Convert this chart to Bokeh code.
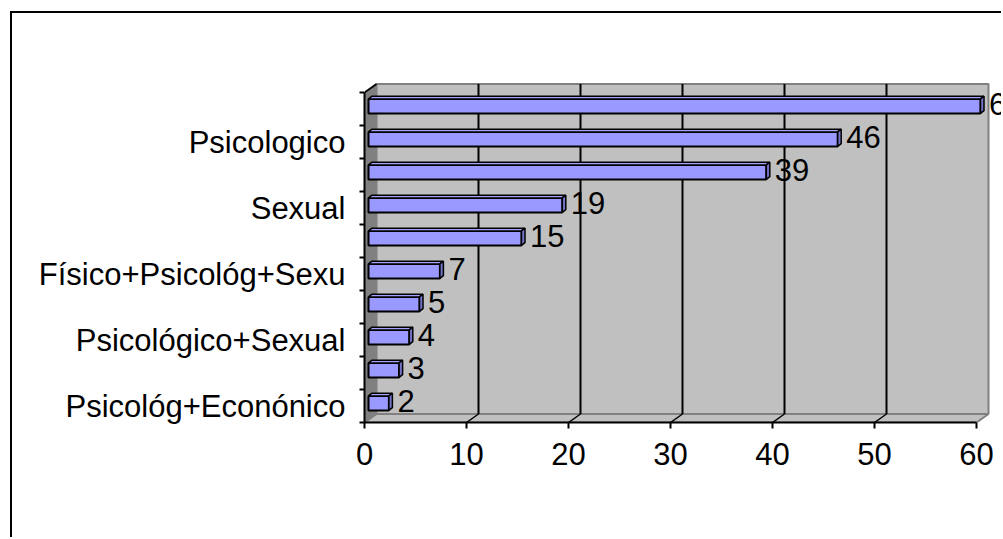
from bokeh.plotting import figure
from bokeh.models import Range1d, FixedTicker
from bokeh.core.properties import value
from bokeh.embed import file_html
from bokeh.resources import INLINE

# ---- data (bottom to top) ----
categories = ["Psicológ+Econónico", "", "Psicológico+Sexual", "", "Físico+Psicológ+Sexu",
              "", "Sexual", "", "Psicologico", ""]
values = [2, 3, 4, 5, 7, 15, 19, 39, 46, 60]
x_ticks = [0, 10, 20, 30, 40, 50, 60]

# ---- layout ----
OX, OY = 12, 13    # page position of the canvas (inside the chart border)
W, H = 991, 526
ML, MR, MT, MB = 364 - OX, 0, 0, H - (422 - OY)
PX = 10.2          # pixels per unit on x
PY = 33.0          # pixels per category
FONT = "Liberation Sans"
FS = "31px"

n = len(values)
xmax = x_ticks[-1]
x_end = (W - ML - MR) / PX
y_end = (H - MT - MB) / PY

DX = 12 / PX       # 3D depth offset
DY = 8.5 / PY
F0 = 1 / 3         # bar position inside depth
BDX = 3.5 / PX     # bar depth
BDY = 2.7 / PY
BH = 14.5 / PY     # bar front height

p = figure(width=W, height=H, output_backend="svg", toolbar_location=None,
           x_range=Range1d(0, x_end), y_range=Range1d(0, y_end),
           min_border_left=ML, min_border_right=MR, min_border_top=MT, min_border_bottom=MB)
p.outline_line_color = None
p.xgrid.visible = False
p.ygrid.visible = False
p.background_fill_color = "white"
p.border_fill_color = "white"
p.styles = {"border-left": "2px solid black", "border-top": "2px solid black",
            "margin-left": "10px", "margin-top": "11px"}

# back wall
p.quad(left=[DX], right=[xmax + DX], bottom=[DY], top=[n + DY],
       fill_color="#C0C0C0", line_color="#808080", line_width=2)
# floor
p.patch(x=[0, xmax, xmax + DX, DX], y=[0, 0, DY, DY],
        fill_color="#C0C0C0", line_color="#808080", line_width=2)
# gridlines on back wall and floor
inner = x_ticks[1:-1]
p.segment(x0=[t + DX for t in inner], y0=[DY] * len(inner),
          x1=[t + DX for t in inner], y1=[n + DY] * len(inner),
          line_color="black", line_width=2)
p.segment(x0=inner, y0=[0] * len(inner),
          x1=[t + DX for t in inner], y1=[DY] * len(inner),
          line_color="black", line_width=1.5)
# side wall
p.patch(x=[0, DX, DX, 0], y=[0, DY, n + DY, n],
        fill_color="#808080", line_color=None)
p.segment(x0=[0], y0=[n], x1=[DX], y1=[n + DY], line_color="black", line_width=2)

# bars
a = F0 * DX
sh = F0 * DY
yc = [i + 0.5 for i in range(n)]
yb = [c - BH / 2 + sh for c in yc]
yt = [c + BH / 2 + sh for c in yc]
xr = [a + v for v in values]

top_xs = [[a, r, r + BDX, a + BDX] for r in xr]
top_ys = [[t, t, t + BDY, t + BDY] for t in yt]
side_xs = [[r, r + BDX, r + BDX, r] for r in xr]
side_ys = [[b, b + BDY, t + BDY, t] for b, t in zip(yb, yt)]

p.quad(left=[a] * n, right=xr, bottom=yb, top=yt,
       fill_color="#9999FF", line_color="black", line_width=2)
p.patches(xs=top_xs, ys=top_ys, fill_color="#A3A3FF", line_color="black", line_width=1.5)
p.patches(xs=side_xs, ys=side_ys, fill_color="#7373C8", line_color="black", line_width=1.5)

# data labels
p.text(x=[r + BDX for r in xr], y=[c + sh for c in yc], text=[str(v) for v in values],
       x_offset=5, y_offset=-2, text_baseline="middle", text_align="left",
       text_font=value(FONT), text_font_size=FS, text_color="black")

# x axis
xa = p.xaxis[0]
xa.ticker = FixedTicker(ticks=x_ticks)
xa.bounds = (0, xmax)
xa.axis_line_width = 2
xa.axis_line_color = "black"
xa.major_tick_out = 6
xa.major_tick_in = 0
xa.major_tick_line_width = 2
xa.minor_tick_line_color = None
xa.major_label_text_font = FONT
xa.major_label_text_font_size = FS
xa.major_label_text_color = "black"
xa.major_label_standoff = 14

# y axis
labeled = [i for i, c in enumerate(categories) if c]
ya = p.yaxis[0]
ya.ticker = FixedTicker(ticks=[i + 0.5 for i in labeled], minor_ticks=list(range(n + 1)))
ya.bounds = (0, n)
ya.axis_line_width = 2
ya.axis_line_color = "black"
ya.major_tick_line_color = None
ya.major_tick_out = 0
ya.major_tick_in = 0
ya.minor_tick_out = 5
ya.minor_tick_in = 0
ya.minor_tick_line_width = 2
ya.minor_tick_line_color = "black"
ya.major_label_overrides = {i + 0.5: categories[i] for i in labeled}
ya.major_label_text_font = FONT
ya.major_label_text_font_size = FS
ya.major_label_text_color = "black"
ya.major_label_standoff = 14

open("out.html", "w").write(file_html(p, INLINE))
